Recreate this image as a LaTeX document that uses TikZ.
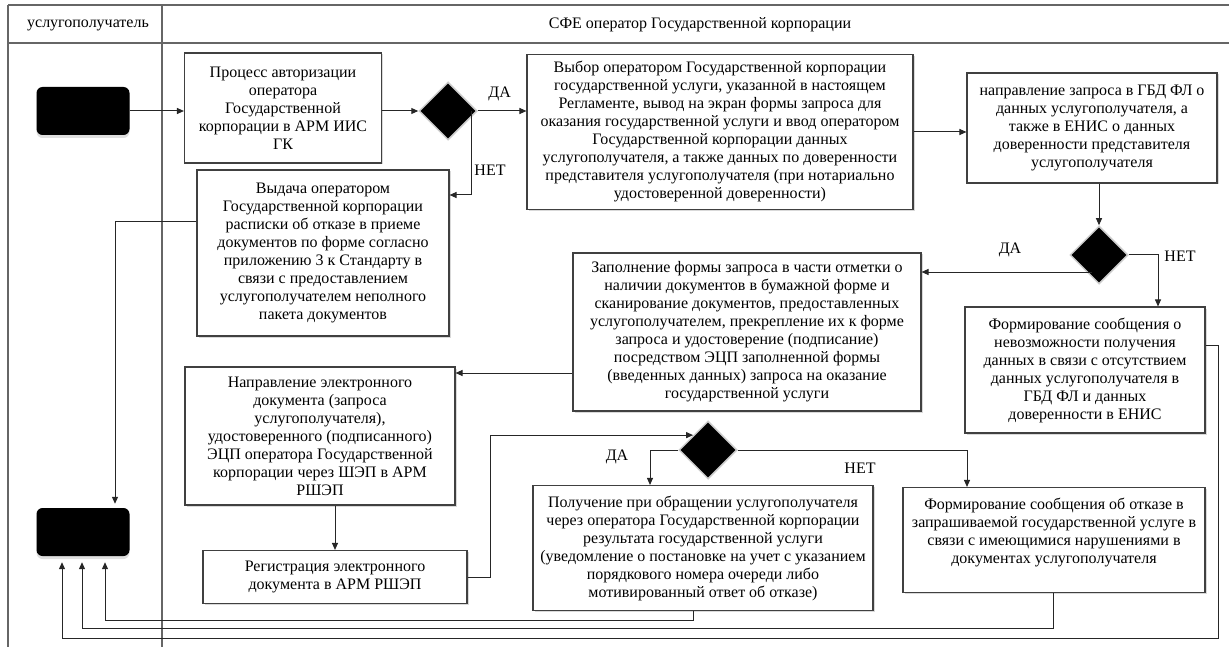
\documentclass[tikz,border=0pt]{standalone}
\usepackage{fontspec}
\setmainfont{Liberation Serif}
\usetikzlibrary{shapes.geometric,arrows.meta,shadows}
\begin{document}
\begin{tikzpicture}[x=1pt,y=-1pt,font=\fontsize{16}{18}\selectfont,
  box/.style={draw=black!75,line width=1.1pt,fill=white,align=center,inner sep=2pt,
    drop shadow={shadow xshift=1.5pt,shadow yshift=-1.5pt,opacity=.3}},
  term/.style={fill=black,rounded corners=6pt,minimum width=93pt,minimum height=48pt,
    drop shadow={shadow xshift=0pt,shadow yshift=-3pt,opacity=.25}},
  dec/.style={diamond,fill=black,draw=black!20,line width=1.5pt,minimum width=58pt,minimum height=58pt,inner sep=0pt},
  flow/.style={draw=black!85,line width=1pt,-{Triangle[length=7pt,width=6pt]}},
  lane/.style={draw=black!60,line width=1.5pt}]
\useasboundingbox (0,0) rectangle (1229,647);
\draw[lane] (8,5) -- (1229,5);
\draw[lane] (8,43) -- (1229,43);
\draw[lane] (8,5) -- (8,647);
\draw[lane] (162,5) -- (162,647);
\node (h1) at (88,25) {услугополучатель};
\node (h2) at (700,25) {СФЕ оператор Государственной корпорации};
\node[term] (s) at (83,111) {};
\node[term] (e) at (83,532) {};
\node[box,minimum width=197pt,minimum height=110pt] (a) at (283,108) {Процесс авторизации\\оператора\\Государственной\\корпорации в АРМ ИИС\\ГК};
\node[dec] (d1) at (448,111) {};
\node[box,minimum width=386pt,minimum height=155pt] (b) at (720,132) {Выбор оператором Государственной корпорации\\государственной услуги, указанной в настоящем\\Регламенте, вывод на экран формы запроса для\\оказания государственной услуги и ввод оператором\\Государственной корпорации данных\\услугополучателя, а также данных по доверенности\\представителя услугополучателя (при нотариально\\удостоверенной доверенности)};
\node[box,minimum width=250pt,minimum height=110pt] (c) at (1092,128) {направление запроса в ГБД ФЛ о\\данных услугополучателя, а\\также в ЕНИС о данных\\доверенности представителя\\услугополучателя};
\node[box,minimum width=252pt,minimum height=166pt] (d) at (323,253) {Выдача оператором\\Государственной корпорации\\расписки об отказе в приеме\\документов по форме согласно\\приложению 3 к Стандарту в\\связи с предоставлением\\услугополучателем неполного\\пакета документов};
\node[dec] (d2) at (1099,255) {};
\node[box,minimum width=348pt,minimum height=158pt] (f) at (747,332) {Заполнение формы запроса в части отметки о\\наличии документов в бумажной форме и\\сканирование документов, предоставленных\\услугополучателем, прекрепление их к форме\\запроса и удостоверение (подписание)\\посредством ЭЦП заполненной формы\\(введенных данных) запроса на оказание\\государственной услуги};
\node[box,minimum width=240pt,minimum height=126pt] (g) at (1085,370) {Формирование сообщения о\\невозможности получения\\данных в связи с отсутствием\\данных услугополучателя в\\ГБД ФЛ и данных\\доверенности в ЕНИС};
\node[box,minimum width=270pt,minimum height=138pt] (i) at (320,436) {Направление электронного\\документа (запроса\\услугополучателя),\\удостоверенного (подписанного)\\ЭЦП оператора Государственной\\корпорации через ШЭП в АРМ\\РШЭП};
\node[box,minimum width=264pt,minimum height=53pt] (j) at (335,577) {Регистрация электронного\\документа в АРМ РШЭП};
\node[dec] (d3) at (708,450) {};
\node[box,minimum width=340pt,minimum height=125pt] (k) at (703,548) {Получение при обращении услугополучателя\\через оператора Государственной корпорации\\результата государственной услуги\\(уведомление о постановке на учет с указанием\\порядкового номера очереди либо\\мотивированный ответ об отказе)};
\node[box,minimum width=302pt,minimum height=105pt] (l) at (1054,540) {Формирование сообщения об отказе в\\запрашиваемой государственной услуге в\\связи с имеющимися нарушениями в\\документах услугополучателя\\ \mbox{}};
\coordinate (k1) at (471,195);
\coordinate (k2) at (115,222);
\coordinate (k3) at (1158,255);
\coordinate (k4) at (1092,272);
\coordinate (k5) at (560,373);
\coordinate (k6) at (490,0);
\coordinate (k7) at (650,0);
\coordinate (k8) at (967,0);
\coordinate (q1) at (105,620);
\coordinate (q2) at (82,628);
\coordinate (q3) at (62,638);
\coordinate (p1) at (693,0);
\coordinate (p2) at (1053,0);
\coordinate (p3) at (1218,345);
\draw[flow] (s.east) -- (s.east -| a.west);
\draw[flow] (d1 -| a.east) -- (d1.west);
\draw[flow] (d1.east) -- (d1 -| b.west) node[pos=.45,above=6pt] (y1) {ДА};
\draw[flow] (k1 |- d1) -- (k1) -- (k1 -| d.east);
\node (n1) at (490,170) {НЕТ};
\draw[flow,shorten >=4pt] (k2 -| d.west) -- (k2) -- (k2 |- e.north);
\draw[flow] (b.east) -- (b.east -| c.west);
\draw[flow] (c.south -| d2) -- (d2.north);
\draw[flow] (k4) -- (k4 -| f.east);
\node (y2) at (1010,250) {ДА};
\draw[flow] (d2.east) -- (k3) -- (k3 |- g.north);
\node (n2) at (1180,256) {НЕТ};
\draw[flow] (k5 -| f.west) -- (k5 -| i.east);
\draw[flow] (i.south -| j) -- (j.north);
\draw[flow] (j.east) -| (k6 |- d3.north west) -- (d3.north west);
\draw[flow] (d3.west) -| (k7 |- k.north);
\node (y3) at (617,457) {ДА};
\draw[flow] (d3.east) -| (k8 |- l.north);
\node (n3) at (860,468) {НЕТ};
\draw[flow,shorten >=6pt] (p1 |- k.south) |- (q1) -- (q1 |- e.south);
\draw[flow,shorten >=6pt] (p2 |- l.south) |- (q2) -- (q2 |- e.south);
\draw[flow,shorten >=6pt] (p3 -| g.east) -- (p3) |- (q3) -- (q3 |- e.south);
\end{tikzpicture}
\end{document}
